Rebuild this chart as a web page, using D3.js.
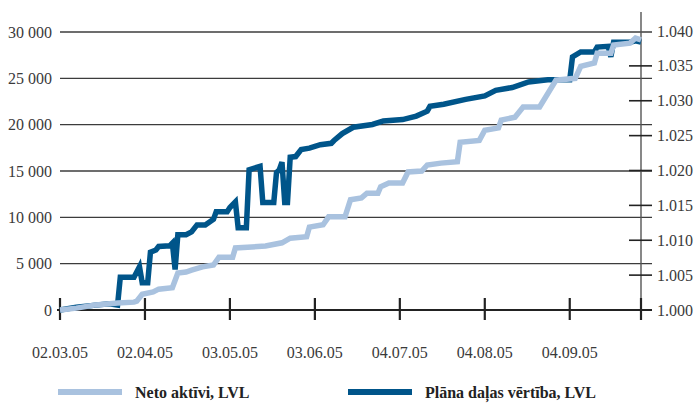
<!DOCTYPE html>
<html>
    <head>
        <meta http-equiv="Content-Type" content="text/html; charset=UTF-8">
        <script src="https://d3js.org/d3.v7.min.js" charset="utf-8"></script>
        <style>
            body { margin: 0; background: #fff; }
        </style>
    </head>
    <body>
        <div id="svgcontainer"></div>
        <script>
            // Neto aktivi, LVL (left axis)
            var netoDates = ["2005-03-02", "2005-03-08", "2005-03-15", "2005-03-23", "2005-03-29", "2005-03-30",
                "2005-04-01", "2005-04-05", "2005-04-07", "2005-04-12", "2005-04-14", "2005-04-17", "2005-04-19",
                "2005-04-23", "2005-04-27", "2005-04-29", "2005-05-04", "2005-05-05", "2005-05-11", "2005-05-16",
                "2005-05-22", "2005-05-25", "2005-05-31", "2005-06-01", "2005-06-06", "2005-06-08", "2005-06-14",
                "2005-06-16", "2005-06-20", "2005-06-22", "2005-06-26", "2005-06-27", "2005-06-30", "2005-07-05",
                "2005-07-07", "2005-07-12", "2005-07-14", "2005-07-19", "2005-07-25", "2005-07-26", "2005-08-02",
                "2005-08-04", "2005-08-09", "2005-08-10", "2005-08-15", "2005-08-18", "2005-08-24", "2005-08-30",
                "2005-09-06", "2005-09-08", "2005-09-13", "2005-09-14", "2005-09-19", "2005-09-20", "2005-09-26",
                "2005-09-28", "2005-09-30"];
            var netoValues = [0, 200, 550, 750, 850, 950,
                1700, 1950, 2250, 2400, 4000, 4100, 4300,
                4650, 4850, 5700, 5700, 6700, 6800, 6900,
                7250, 7750, 7900, 8950, 9200, 10050, 10050,
                11900, 12100, 12600, 12600, 13300, 13700, 13700,
                14900, 15000, 15650, 15850, 16000, 18100, 18300,
                19400, 19650, 20500, 20800, 21900, 21900, 24800,
                25000, 26300, 26650, 27700, 27700, 28600, 28800,
                29350, 29150];

            // Plana dalas vertiba, LVL (right axis)
            var unitDates = ["2005-03-02", "2005-03-08", "2005-03-15", "2005-03-20", "2005-03-23", "2005-03-24",
                "2005-03-29", "2005-03-31", "2005-04-01", "2005-04-03", "2005-04-04", "2005-04-06", "2005-04-07",
                "2005-04-11", "2005-04-12", "2005-04-13", "2005-04-14", "2005-04-17", "2005-04-19", "2005-04-21",
                "2005-04-24", "2005-04-27", "2005-04-28", "2005-05-02", "2005-05-03", "2005-05-05", "2005-05-06",
                "2005-05-09", "2005-05-10", "2005-05-14", "2005-05-15", "2005-05-19", "2005-05-20", "2005-05-21",
                "2005-05-22", "2005-05-23", "2005-05-24", "2005-05-25", "2005-05-27", "2005-05-29", "2005-06-01",
                "2005-06-05", "2005-06-09", "2005-06-10", "2005-06-13", "2005-06-17", "2005-06-24", "2005-06-28",
                "2005-07-05", "2005-07-10", "2005-07-14", "2005-07-15", "2005-07-20", "2005-07-28", "2005-08-04",
                "2005-08-08", "2005-08-14", "2005-08-20", "2005-08-27", "2005-09-04", "2005-09-05", "2005-09-08",
                "2005-09-13", "2005-09-14", "2005-09-18", "2005-09-19", "2005-09-20", "2005-09-26", "2005-09-28",
                "2005-09-30"];
            var unitValues = [1.0000, 1.0004, 1.0007, 1.0009, 1.0007, 1.0047,
                1.0047, 1.0062, 1.0039, 1.0039, 1.0083, 1.0086, 1.0091,
                1.0092, 1.0096, 1.0058, 1.0108, 1.0108, 1.0112, 1.0122,
                1.0122, 1.0130, 1.0141, 1.0141, 1.0147, 1.0155, 1.0118,
                1.0118, 1.0201, 1.0206, 1.0154, 1.0154, 1.0197, 1.0201,
                1.0212, 1.0154, 1.0154, 1.0219, 1.0220, 1.0230, 1.0232,
                1.0237, 1.0239, 1.0243, 1.0253, 1.0262, 1.0266, 1.0271,
                1.0273, 1.0278, 1.0285, 1.0292, 1.0295, 1.0302, 1.0307,
                1.0315, 1.0319, 1.0327, 1.0330, 1.0330, 1.0363, 1.0370,
                1.0370, 1.0377, 1.0378, 1.0363, 1.0384, 1.0384, 1.0386,
                1.0384];

            // axis ticks
            var dateTicks = ["2005-03-02", "2005-04-02", "2005-05-03", "2005-06-03", "2005-07-04", "2005-08-04", "2005-09-04"];
            var leftTicks = [0, 5000, 10000, 15000, 20000, 25000, 30000];
            var rightTicks = [1.000, 1.005, 1.010, 1.015, 1.020, 1.025, 1.030, 1.035, 1.040];
            var seriesNames = ["Neto aktīvi, LVL", "Plāna daļas vērtība, LVL"];

            // Declarations (plot box in pixels)
            var w = 698, h = 403;
            var plotLeft = 60, plotRight = 641, plotTop = 32, plotBottom = 310;
            var lightBlue = "#a9c2df", darkBlue = "#00558a";
            var serif = "'Liberation Serif', 'DejaVu Serif', 'Times New Roman', serif";

            var parse = d3.timeParse("%Y-%m-%d");
            var fmt = d3.timeFormat("%d.%m.%y");

            var x = d3.scaleTime()
                .domain([parse("2005-03-02"), parse("2005-09-30")])
                .range([plotLeft, plotRight]);
            var yLeft = d3.scaleLinear().domain([0, 30000]).range([plotBottom, plotTop]);
            var yRight = d3.scaleLinear().domain([1.0, 1.04]).range([plotBottom, plotTop - 1]);

            var svg = d3.select("#svgcontainer")
                .append("svg")
                .attr("width", w)
                .attr("height", h)
                .attr("font-family", serif);

            // horizontal grid lines (left axis values)
            svg.selectAll(".grid")
                .data(leftTicks.filter(function (d) { return d > 0; }))
                .enter()
                .append("line")
                .attr("x1", plotLeft)
                .attr("x2", plotRight + 11)
                .attr("y1", function (d) { return yLeft(d); })
                .attr("y2", function (d) { return yLeft(d); })
                .style("stroke", "#3c3c3c")
                .style("stroke-width", 1.4);

            // left labels
            svg.selectAll(".lLabel")
                .data(leftTicks)
                .enter()
                .append("text")
                .attr("x", 52)
                .attr("y", function (d) { return yLeft(d); })
                .attr("dy", "0.35em")
                .attr("text-anchor", "end")
                .attr("fill", "#3a3a3a")
                .style("font-size", "16px")
                .text(function (d) { return d3.format(",")(d).replace(/,/g, " "); });

            // right axis line + ticks
            svg.append("line")
                .attr("x1", plotRight).attr("x2", plotRight)
                .attr("y1", 12).attr("y2", plotBottom + 9)
                .style("stroke", "#555")
                .style("stroke-width", 1.4);

            svg.selectAll(".rTick")
                .data(rightTicks.slice(1, rightTicks.length - 1))
                .enter()
                .append("line")
                .attr("x1", plotRight - 12)
                .attr("x2", plotRight + 11)
                .attr("y1", function (d) { return yRight(d); })
                .attr("y2", function (d) { return yRight(d); })
                .style("stroke", "#222")
                .style("stroke-width", 1.6);

            svg.selectAll(".rLabel")
                .data(rightTicks)
                .enter()
                .append("text")
                .attr("x", plotRight + 16)
                .attr("y", function (d) { return yRight(d); })
                .attr("dy", "0.35em")
                .attr("fill", "#3a3a3a")
                .style("font-size", "16px")
                .text(function (d) { return d3.format(".3f")(d); });

            // bottom axis
            svg.append("line")
                .attr("x1", plotLeft - 3).attr("x2", plotRight + 11)
                .attr("y1", plotBottom).attr("y2", plotBottom)
                .style("stroke", "#222")
                .style("stroke-width", 2.2);

            var tickDates = dateTicks.map(parse);
            svg.selectAll(".xTick")
                .data(tickDates.concat([parse("2005-09-30")]))
                .enter()
                .append("line")
                .attr("x1", function (d) { return x(d); })
                .attr("x2", function (d) { return x(d); })
                .attr("y1", plotBottom - 12)
                .attr("y2", plotBottom + 10)
                .style("stroke", "#222")
                .style("stroke-width", 2.2);

            svg.selectAll(".xLabel")
                .data(tickDates)
                .enter()
                .append("text")
                .attr("x", function (d) { return x(d); })
                .attr("y", 358)
                .attr("text-anchor", "middle")
                .attr("fill", "#3a3a3a")
                .style("font-size", "16px")
                .text(function (d) { return fmt(d); });

            // series
            var unitData = unitDates.map(function (d, i) { return { date: parse(d), value: unitValues[i] }; });
            var netoData = netoDates.map(function (d, i) { return { date: parse(d), value: netoValues[i] }; });

            svg.append("path")
                .datum(unitData)
                .attr("d", d3.line()
                    .x(function (d) { return x(d.date); })
                    .y(function (d) { return yRight(d.value); }))
                .style("fill", "none")
                .style("stroke", darkBlue)
                .style("stroke-width", 5.5);

            svg.append("path")
                .datum(netoData)
                .attr("d", d3.line()
                    .x(function (d) { return x(d.date); })
                    .y(function (d) { return yLeft(d.value); }))
                .style("fill", "none")
                .style("stroke", lightBlue)
                .style("stroke-width", 5.5);

            // legend
            var legend = svg.append("g");
            var legendX = [58, 348];
            var legendColors = [lightBlue, darkBlue];
            seriesNames.forEach(function (name, i) {
                legend.append("line")
                    .attr("x1", legendX[i]).attr("x2", legendX[i] + 64)
                    .attr("y1", 392).attr("y2", 392)
                    .style("stroke", legendColors[i])
                    .style("stroke-width", 6);
                legend.append("text")
                    .attr("x", legendX[i] + 77)
                    .attr("y", 392)
                    .attr("dy", "0.35em")
                    .attr("fill", "#222")
                    .attr("font-weight", "bold")
                    .style("font-size", "16px")
                    .text(name);
            });
        </script>
    </body>
</html>
